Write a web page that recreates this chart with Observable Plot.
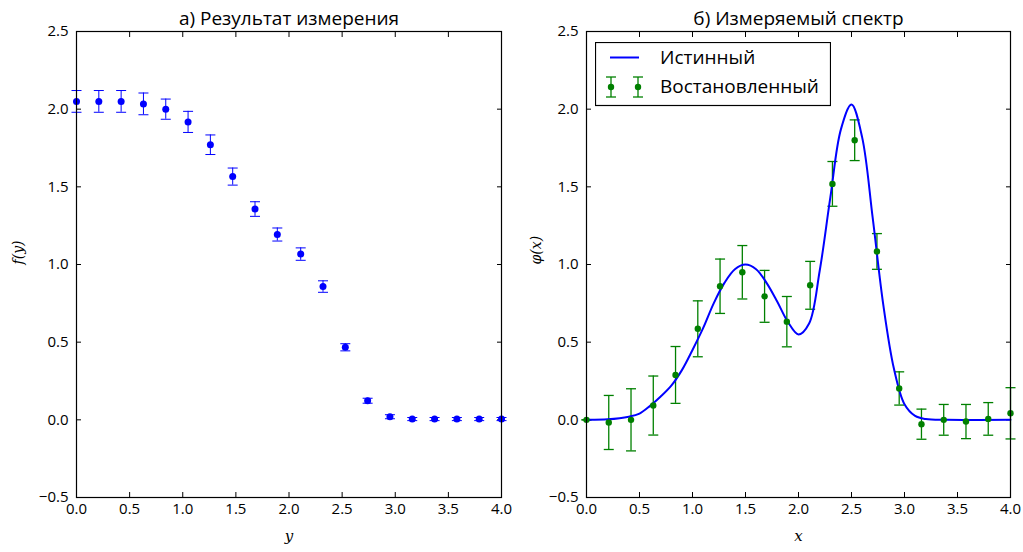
<!DOCTYPE html>
<html><head><meta charset="utf-8">
<script src="https://cdn.jsdelivr.net/npm/d3@7"></script>
<script src="https://cdn.jsdelivr.net/npm/@observablehq/plot@0.6"></script>
<style>
body{margin:0;background:#fff;}
#wrap{position:relative;width:1023px;height:552px;font-family:"Open Sans",sans-serif;}
#wrap > svg{position:absolute;top:0;}
#wrap > svg#legend{left:595px;top:42px;}
</style></head><body><div id="wrap"></div>
<script>
// ---- data ----
const xPts = [0.0, 0.21, 0.42, 0.63, 0.84, 1.05, 1.26, 1.47, 1.68, 1.89, 2.11, 2.32, 2.53, 2.74, 2.95, 3.16, 3.37, 3.58, 3.79, 4.0];
const fVals = [2.05, 2.05, 2.05, 2.034, 2.0, 1.918, 1.771, 1.566, 1.357, 1.193, 1.067, 0.858, 0.467, 0.123, 0.02, 0.005, 0.005, 0.005, 0.005, 0.005];
const fErr  = [0.07, 0.07, 0.07, 0.07, 0.065, 0.068, 0.063, 0.055, 0.047, 0.042, 0.04, 0.037, 0.023, 0.016, 0.013, 0.01, 0.01, 0.01, 0.01, 0.01];
const phiVals = [0.0, -0.017, 0.0, 0.092, 0.289, 0.586, 0.86, 0.95, 0.795, 0.632, 0.866, 1.519, 1.80, 1.084, 0.202, -0.028, 0.0, -0.011, 0.006, 0.042];
const phiErr  = [0.0, 0.174, 0.2, 0.19, 0.183, 0.18, 0.175, 0.172, 0.167, 0.162, 0.154, 0.144, 0.131, 0.115, 0.107, 0.097, 0.099, 0.11, 0.105, 0.165];
const trueX = [0, 0.2, 0.4, 0.5, 0.6, 0.7, 0.8, 0.9, 1.0, 1.1, 1.2, 1.3, 1.4, 1.5, 1.6, 1.7, 1.8, 1.9, 2.0, 2.1, 2.2, 2.3, 2.4, 2.5, 2.6, 2.7, 2.8, 2.9, 3.0, 3.1, 3.2, 3.4, 4.0];
const trueY = [0, 0.003, 0.02, 0.04, 0.09, 0.15, 0.22, 0.32, 0.45, 0.59, 0.75, 0.88, 0.97, 1.0, 0.97, 0.88, 0.76, 0.63, 0.55, 0.62, 0.96, 1.43, 1.87, 2.03, 1.82, 1.3, 0.74, 0.33, 0.1, 0.025, 0.005, 0, 0];
const xTicks = [0, 0.5, 1.0, 1.5, 2.0, 2.5, 3.0, 3.5, 4.0];
const yTicks = [-0.5, 0.0, 0.5, 1.0, 1.5, 2.0, 2.5];
const titles = ["а) Результат измерения", "б) Измеряемый спектр"];
const xLabels = ["y", "x"];
const yLabels = ["f(y)", "φ(x)"];
const legendLabels = ["Истинный", "Востановленный"];

const blue = "#0000ff", green = "#008000";
const meas = xPts.map((x, i) => ({x, y: fVals[i], e: fErr[i]}));
const rec = xPts.map((x, i) => ({x, y: phiVals[i], e: phiErr[i]}));
const truth = trueX.map((x, i) => ({x, y: trueY[i]}));

const fmt = d3.format(".1f");
const cap = {draw(ctx) { ctx.moveTo(-5, 0); ctx.lineTo(5, 0); }};

function axes() {
  return [
    Plot.axisX({anchor: "bottom", ticks: xTicks, tickSize: -5, tickPadding: 11, tickFormat: fmt, fontSize: 15, label: null}),
    Plot.axisX({anchor: "top", ticks: xTicks, tickSize: -5, tickFormat: () => "", label: null}),
    Plot.axisY({anchor: "left", ticks: yTicks, tickSize: -5, tickPadding: 13, tickFormat: fmt, fontSize: 15, label: null}),
    Plot.axisY({anchor: "right", ticks: yTicks, tickSize: -5, tickFormat: () => "", label: null})
  ];
}
function errorMarks(data, color, w) {
  return [
    Plot.ruleX(data, {x: "x", y1: d => d.y - d.e, y2: d => d.y + d.e, stroke: color, strokeWidth: w, ariaLabel: "databar"}),
    Plot.dot(data, {x: "x", y: d => d.y + d.e, symbol: cap, stroke: color, strokeWidth: w, fill: "none", ariaLabel: "databar"}),
    Plot.dot(data, {x: "x", y: d => d.y - d.e, symbol: cap, stroke: color, strokeWidth: w, fill: "none", ariaLabel: "databar"})
  ];
}
function labels(i, ydx) {
  return [
    Plot.text([titles[i]], {text: d => d, frameAnchor: "top", dy: -7, lineAnchor: "bottom", fontSize: 19}),
    Plot.text([xLabels[i]], {text: d => d, frameAnchor: "bottom", dy: 43, fontSize: 15, fontStyle: "italic", fontFamily: "DejaVu Serif"}),
    Plot.text([yLabels[i]], {text: d => d, frameAnchor: "left", dx: ydx, rotate: -90, fontSize: 14, fontStyle: "italic", fontFamily: "DejaVu Serif"})
  ];
}
const common = {
  height: 552, marginTop: 31, marginBottom: 55,
  x: {domain: [0, 4]}, y: {domain: [-0.5, 2.5]},
  style: {fontFamily: "Open Sans, sans-serif", fontSize: "15px", color: "black", background: "transparent", overflow: "visible"}
};

const left = Plot.plot({
  ...common, width: 512, marginLeft: 76, marginRight: 11,
  marks: [
    ...axes(),
    ...errorMarks(meas, blue, 1),
    Plot.dot(meas, {x: "x", y: "y", r: 3.5, fill: blue, ariaLabel: "databar"}),
    Plot.frame({stroke: "black", strokeWidth: 1.2}),
    ...labels(0, -58)
  ]
});
const right = Plot.plot({
  ...common, width: 511, marginLeft: 74, marginRight: 13,
  marks: [
    ...axes(),
    ...errorMarks(rec, green, 1.3),
    Plot.line(truth, {x: "x", y: "y", stroke: blue, strokeWidth: 2, curve: "catmull-rom"}),
    Plot.dot(rec, {x: "x", y: "y", r: 3.2, fill: green, ariaLabel: "databar"}),
    Plot.frame({stroke: "black", strokeWidth: 1.2}),
    ...labels(1, -50)
  ]
});

// clip the error-bar/dot groups to the plotting frame (as matplotlib does)
function clipToFrame(svg, id, x0, y0, w, h) {
  const s = d3.select(svg);
  s.append("defs").append("clipPath").attr("id", id).attr("clipPathUnits", "userSpaceOnUse")
    .append("rect").attr("x", x0).attr("y", y0).attr("width", w).attr("height", h);
  s.selectAll('g[aria-label="databar"]').attr("clip-path", `url(#${id})`);
}
const wrap = document.getElementById("wrap");
left.style.left = "0px";
right.style.left = "512px";
wrap.append(left, right);
clipToFrame(left, "frameclipL", 76, 31, 512 - 76 - 11, 552 - 31 - 55);
clipToFrame(right, "frameclipR", 74, 31, 511 - 74 - 13, 552 - 31 - 55);

// legend
const lg = d3.select(wrap).append("svg").attr("id", "legend").attr("width", 236).attr("height", 65);
lg.append("rect").attr("x", 0.5).attr("y", 0.5).attr("width", 235).attr("height", 63).attr("fill", "white").attr("stroke", "black").attr("stroke-width", 1.2);
lg.append("line").attr("x1", 15).attr("x2", 44).attr("y1", 15.5).attr("y2", 15.5).attr("stroke", blue).attr("stroke-width", 2);
for (const cx of [16, 43]) {
  lg.append("line").attr("x1", cx).attr("x2", cx).attr("y1", 35).attr("y2", 55).attr("stroke", green).attr("stroke-width", 1.3);
  lg.append("line").attr("x1", cx - 5).attr("x2", cx + 5).attr("y1", 35).attr("y2", 35).attr("stroke", green).attr("stroke-width", 1.3);
  lg.append("line").attr("x1", cx - 5).attr("x2", cx + 5).attr("y1", 55).attr("y2", 55).attr("stroke", green).attr("stroke-width", 1.3);
  lg.append("circle").attr("cx", cx).attr("cy", 45).attr("r", 3.2).attr("fill", green);
}
lg.selectAll("text.lbl").data(legendLabels).join("text").attr("class", "lbl")
  .attr("x", 65).attr("y", (d, i) => 22 + i * 29).attr("font-size", 19).attr("font-family", "Open Sans, sans-serif").text(d => d);
</script></body></html>
